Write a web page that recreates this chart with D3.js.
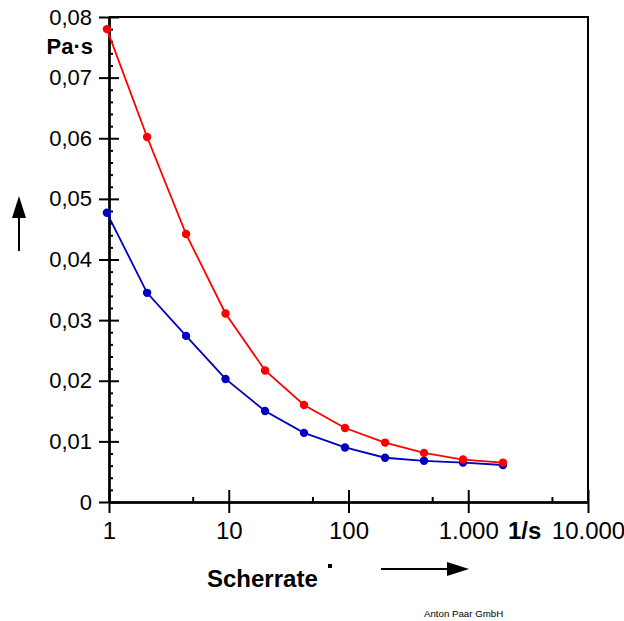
<!DOCTYPE html>
<html lang="de">
<head>
    <meta charset="utf-8">
    <title>Viskosität über Scherrate</title>
    <script src="https://d3js.org/d3.v7.min.js"></script>
    <style>
        body { margin: 0; background: #fff; }
        text { font-family: "Liberation Sans", Arial, sans-serif; fill: #000; }
    </style>
</head>
<body>
<svg width="624" height="621"></svg>
<script>
    var shearRate = [0.96, 2.08, 4.4, 9.4, 20.1, 42.5, 93.5, 202, 427, 904, 1950];
    var viscRed   = [0.0780, 0.0602, 0.0442, 0.0311, 0.0217, 0.0160, 0.0122, 0.0098, 0.0081, 0.0070, 0.0065];
    var viscBlue  = [0.0477, 0.0345, 0.0274, 0.0203, 0.0150, 0.0114, 0.0090, 0.0073, 0.0068, 0.0065, 0.0061];

    // Achsenbeschriftungen
    var xTicks = [1, 10, 100, 1000, 10000];
    var xTickLabels = ["1", "10", "100", "1.000", "10.000"];
    var xMinor = [5, 50, 500, 5000];
    var yTicks = [0, 0.01, 0.02, 0.03, 0.04, 0.05, 0.06, 0.07, 0.08];
    var yTickLabels = ["0", "0,01", "0,02", "0,03", "0,04", "0,05", "0,06", "0,07", "0,08"];
    var yMinor = d3.range(0, 81, 2).filter(function(d){ return d % 10 != 0; }).map(function(d){ return d / 1000; });

    var plot = {left:109, right:588, top:17, bottom:502};

    var svg = d3.select("svg");

    var xScale = d3.scaleLog()
        .domain([1, 10000])
        .range([plot.left, plot.right]);
    var yScale = d3.scaleLinear()
        .domain([0, 0.08])
        .range([plot.bottom, plot.top]);

    // Rahmen oben und rechts
    svg.append("path")
        .attr("d", "M" + plot.left + "," + plot.top + "H" + plot.right + "V" + plot.bottom)
        .attr("fill", "none")
        .attr("stroke", "#000")
        .attr("stroke-width", 2);

    // y-Achse: Hauptstriche nach außen mit Beschriftung
    var yAxis = d3.axisLeft(yScale)
        .tickValues(yTicks)
        .tickFormat(function(d, i){ return yTickLabels[i]; })
        .tickSize(10)
        .tickSizeOuter(0)
        .tickPadding(7);
    var gy = svg.append("g")
        .attr("transform", "translate(" + plot.left + ",0)")
        .call(yAxis);
    gy.selectAll("text").style("font-size", "22px");

    // Hauptstriche nach innen
    svg.append("g")
        .attr("transform", "translate(" + plot.left + ",0)")
        .call(d3.axisRight(yScale).tickValues(yTicks).tickFormat("").tickSize(10).tickSizeOuter(0));
    // Nebenstriche
    svg.append("g")
        .attr("transform", "translate(" + plot.left + ",0)")
        .call(d3.axisRight(yScale).tickValues(yMinor).tickFormat("").tickSize(4).tickSizeOuter(0));

    // x-Achse
    var xAxis = d3.axisBottom(xScale)
        .tickValues(xTicks)
        .tickFormat(function(d, i){ return xTickLabels[i]; })
        .tickSize(11)
        .tickSizeOuter(0)
        .tickPadding(9);
    var gx = svg.append("g")
        .attr("transform", "translate(0," + plot.bottom + ")")
        .call(xAxis);
    gx.selectAll("text").style("font-size", "24px");

    svg.append("g")
        .attr("transform", "translate(0," + plot.bottom + ")")
        .call(d3.axisTop(xScale).tickValues(xTicks).tickFormat("").tickSize(12).tickSizeOuter(0));
    svg.append("g")
        .attr("transform", "translate(0," + plot.bottom + ")")
        .call(d3.axisTop(xScale).tickValues(xMinor).tickFormat("").tickSize(5).tickSizeOuter(0));

    svg.selectAll(".domain, .tick line")
        .attr("stroke", "#000")
        .attr("stroke-width", 2);

    // Kurven
    var line = d3.line()
        .x(function(d){ return xScale(d[0]); })
        .y(function(d){ return yScale(d[1]); });

    function drawSeries(values, color) {
        var pts = shearRate.map(function(x, i){ return [x, values[i]]; });
        svg.append("path")
            .datum(pts)
            .attr("d", line)
            .attr("fill", "none")
            .attr("stroke", color)
            .attr("stroke-width", 1.8);
        svg.append("g").selectAll("circle")
            .data(pts)
            .enter()
            .append("circle")
            .attr("cx", function(d){ return xScale(d[0]); })
            .attr("cy", function(d){ return yScale(d[1]); })
            .attr("r", 4.2)
            .attr("fill", color);
    }
    drawSeries(viscBlue, "#0000c0");
    drawSeries(viscRed, "#ff0000");

    // Einheiten und Titel
    svg.append("text")
        .attr("x", 93).attr("y", 54)
        .attr("text-anchor", "end")
        .style("font-size", "22px").style("font-weight", "bold")
        .text("Pa·s");

    svg.append("text")
        .attr("x", 508).attr("y", 539)
        .style("font-size", "24px").style("font-weight", "bold")
        .text("1/s");

    svg.append("text")
        .attr("x", 207).attr("y", 587)
        .style("font-size", "24px").style("font-weight", "bold")
        .text("Scherrate");
    svg.append("rect")
        .attr("x", 328).attr("y", 564)
        .attr("width", 4).attr("height", 4)
        .attr("fill", "#000");

    // Pfeile
    svg.append("line")
        .attr("x1", 19).attr("y1", 251).attr("x2", 19).attr("y2", 214)
        .attr("stroke", "#000").attr("stroke-width", 2);
    svg.append("path")
        .attr("d", "M19,196L12,218L26,218Z")
        .attr("fill", "#000");

    svg.append("line")
        .attr("x1", 381).attr("y1", 569).attr("x2", 450).attr("y2", 569)
        .attr("stroke", "#000").attr("stroke-width", 2);
    svg.append("path")
        .attr("d", "M469,569L447,562L447,576Z")
        .attr("fill", "#000");

    svg.append("text")
        .attr("x", 424).attr("y", 617)
        .style("font-size", "9.7px")
        .text("Anton Paar GmbH");
</script>
</body>
</html>
